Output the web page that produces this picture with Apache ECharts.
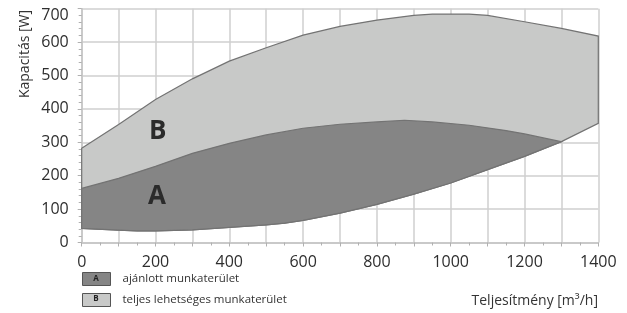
<!DOCTYPE html>
<html><head><meta charset="utf-8">
<script src="https://cdn.jsdelivr.net/npm/echarts@6/dist/echarts.min.js"></script>
<style>html,body{margin:0;padding:0;background:#fff}#c{width:627px;height:313px}</style>
</head><body><div id="c"></div>
<script>
// Upper boundary of the full working area (B)
const topX = [0, 100, 200, 300, 400, 500, 600, 700, 800, 900, 950, 1050, 1100, 1200, 1300, 1400];
const topY = [282, 353, 428, 490, 543, 583, 621, 647, 666, 680, 684, 684, 680, 661, 641, 618];
// Right edge bottom of B and the link to A's tip
const rightEdgeX = [1400, 1300];
const rightEdgeY = [357, 302];
// Upper boundary of recommended area (A)
const aUpX = [0, 100, 200, 300, 400, 500, 600, 700, 800, 875, 950, 1050, 1150, 1200, 1300];
const aUpY = [162, 192, 228, 267, 297, 322, 342, 354, 361, 366, 361, 351, 335, 325, 302];
// Lower boundary of A (and of B)
const aLoX = [0, 100, 150, 200, 300, 400, 500, 550, 600, 700, 800, 900, 1000, 1100, 1200, 1300];
const aLoY = [42, 37, 35, 35, 38, 45, 53, 58, 66, 88, 114, 145, 178, 218, 258, 302];
const xTicks = [0, 200, 400, 600, 800, 1000, 1200, 1400];
const yTicks = [0, 100, 200, 300, 400, 500, 600, 700];
const seriesNames = ['ajánlott munkaterület', 'teljes lehetséges munkaterület'];
const areaLetters = ['A', 'B'];
const letterPos = [[204, 137], [206, 331]];

const zip = (xs, ys) => xs.map((x, i) => [x, ys[i]]);
const polyB = zip(topX, topY).concat(zip(rightEdgeX, rightEdgeY)).concat(zip(aLoX, aLoY).reverse());
const polyA = zip(aUpX, aUpY).concat(zip(aLoX, aLoY).reverse());

function makeRender(poly, letter, pos, fill) {
  return function (params, api) {
    const pts = poly.map(p => api.coord(p));
    const lp = api.coord(pos);
    return {
      type: 'group',
      children: [
        { type: 'polygon', shape: { points: pts }, style: { fill: fill, stroke: '#737373', lineWidth: 1.2 } },
        { type: 'text', x: lp[0], y: lp[1], style: { text: letter, fill: '#2b2b2b', font: 'bold 26px "Open Sans"', align: 'center', verticalAlign: 'middle' } }
      ]
    };
  };
}

const chart = echarts.init(document.getElementById('c'), null, { renderer: 'canvas' });
const labelStyle = { color: '#2e2e2e', fontFamily: 'Open Sans', fontSize: 16 };
const maxY = yTicks[yTicks.length - 1];
chart.setOption({
  animation: false,
  grid: { left: 81.7, right: 28.7, top: 8.7, bottom: 70.5 },
  xAxis: {
    type: 'value', min: 0, max: 1400, interval: 100,
    axisLine: { show: true, lineStyle: { color: '#c4c4c4', width: 1.5 } },
    axisTick: { show: true, length: 4, lineStyle: { color: '#b0b0b0' } },
    minorTick: { show: true, splitNumber: 2, length: 3, lineStyle: { color: '#b0b0b0' } },
    splitLine: { show: true, lineStyle: { color: '#cfcfcf', width: 1.5 } },
    axisLabel: Object.assign({ margin: 12, formatter: v => xTicks.includes(v) ? String(v) : '' }, labelStyle)
  },
  yAxis: {
    type: 'value', min: 0, max: 700, interval: 100,
    axisLine: { show: true, lineStyle: { color: '#c4c4c4', width: 1.5 } },
    axisTick: { show: true, length: 4, lineStyle: { color: '#b0b0b0' } },
    minorTick: { show: true, splitNumber: 5, length: 3, lineStyle: { color: '#b0b0b0' } },
    splitLine: { show: true, lineStyle: { color: '#cfcfcf', width: 1.5 } },
    axisLabel: Object.assign({
      margin: 13,
      formatter: v => v === maxY ? '{t|' + v + '}' : (yTicks.includes(v) ? String(v) : ''),
      rich: { t: { padding: [14, 0, 0, 0], color: '#2e2e2e', fontFamily: 'Open Sans', fontSize: 16 } }
    }, labelStyle)
  },
  legend: {
    orient: 'vertical', left: 82, top: 272, itemWidth: 28, itemHeight: 13, itemGap: 7,
    icon: 'rect', padding: 0,
    data: seriesNames,
    itemStyle: { borderColor: '#555', borderWidth: 1 },
    textStyle: { color: '#333', fontFamily: 'Open Sans', fontSize: 11.5, padding: [0, 0, 0, 7] }
  },
  series: [
    { type: 'custom', name: seriesNames[1], data: [[0, 0]], itemStyle: { color: '#c8c9c8' },
      renderItem: makeRender(polyB, areaLetters[1], letterPos[1], '#c8c9c8'), z: 2 },
    { type: 'custom', name: seriesNames[0], data: [[0, 0]], itemStyle: { color: '#858585' },
      renderItem: makeRender(polyA, areaLetters[0], letterPos[0], '#858585'), z: 3 }
  ],
  graphic: [
    { type: 'text', x: 25, y: 54, rotation: Math.PI / 2, style: { text: 'Kapacitás [W]', fill: '#333', font: '14px "Open Sans"', align: 'center', verticalAlign: 'middle' } },
    { type: 'text', x: 598, y: 301, style: { text: 'Teljesítmény [m³/h]', fill: '#333', font: '14px "Open Sans"', align: 'right', verticalAlign: 'middle' } },
    { type: 'text', x: 96, y: 278.5, style: { text: 'A', fill: '#222', font: 'bold 8px "Open Sans"', align: 'center', verticalAlign: 'middle' }, z: 100 },
    { type: 'text', x: 96, y: 298.5, style: { text: 'B', fill: '#222', font: 'bold 8px "Open Sans"', align: 'center', verticalAlign: 'middle' }, z: 100 }
  ]
});
</script></body></html>
